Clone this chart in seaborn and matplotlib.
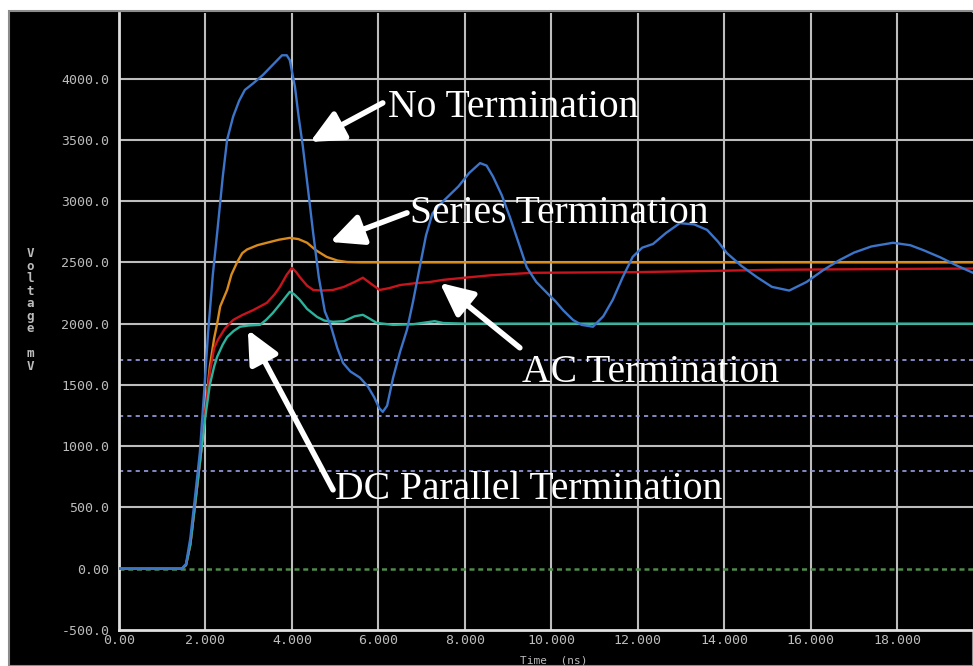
import numpy as np
import pandas as pd
import matplotlib
matplotlib.use("Agg")
import matplotlib.pyplot as plt
from matplotlib.patches import Rectangle
import seaborn as sns

# ---------------- data ----------------
t_no = [0, 1.45, 1.55, 1.65, 1.75, 1.87, 1.97, 2.06, 2.17, 2.27, 2.4, 2.5, 2.64, 2.78, 2.91,
        3.1, 3.33, 3.55, 3.77, 3.88, 3.95, 4.07, 4.15, 4.25, 4.37, 4.49, 4.62, 4.76, 4.9,
        5.05, 5.18, 5.35, 5.57, 5.75, 5.9, 6.02, 6.1, 6.2, 6.34, 6.5, 6.66, 6.8, 6.96, 7.1,
        7.25, 7.5, 7.85, 8.1, 8.35, 8.5, 8.65, 8.85, 9.04, 9.25, 9.43, 9.65, 9.9, 10.1, 10.27,
        10.5, 10.7, 10.96, 11.2, 11.42, 11.65, 11.88, 12.1, 12.35, 12.65, 12.97, 13.3, 13.6,
        13.85, 14.06, 14.4, 14.75, 15.1, 15.5, 15.9, 16.3, 16.67, 17.0, 17.4, 17.9, 18.3,
        18.6, 19.0, 19.4, 19.75]
v_no = [0, 0, 40, 250, 560, 950, 1450, 1925, 2400, 2740, 3200, 3500, 3690, 3820, 3907,
        3960, 4030, 4110, 4190, 4190, 4150, 3930, 3700, 3450, 3100, 2740, 2380, 2100, 1980,
        1800, 1680, 1610, 1560, 1490, 1400, 1310, 1280, 1330, 1560, 1770, 1950, 2180, 2470, 2720,
        2900, 3000, 3120, 3230, 3310, 3290, 3200, 3050, 2870, 2650, 2460, 2340, 2250, 2180, 2110,
        2030, 1990, 1975, 2060, 2195, 2380, 2545, 2620, 2650, 2740, 2820, 2810, 2765,
        2670, 2575, 2470, 2380, 2300, 2270, 2340, 2440, 2520, 2580, 2630, 2660, 2640,
        2600, 2540, 2470, 2415]

t_series = [0, 1.45, 1.55, 1.65, 1.75, 1.87, 2.0, 2.1, 2.2, 2.27, 2.34, 2.5, 2.6, 2.73, 2.85,
            2.96, 3.2, 3.42, 3.7, 3.95, 4.15, 4.35, 4.55, 4.8, 5.05, 5.27, 5.6, 19.75]
v_series = [0, 0, 30, 200, 500, 865, 1300, 1650, 1880, 2000, 2140, 2275, 2400, 2500, 2575,
            2605, 2640, 2660, 2685, 2700, 2690, 2660, 2600, 2545, 2515, 2503, 2500, 2500]

t_ac = [0, 1.45, 1.55, 1.65, 1.75, 1.87, 2.0, 2.1, 2.2, 2.29, 2.45, 2.64, 2.85, 3.1, 3.42,
        3.6, 3.72, 3.88, 4.0, 4.1, 4.18, 4.35, 4.49, 4.7, 4.95, 5.2, 5.45, 5.64, 5.85, 6.03,
        6.25, 6.5, 6.85, 7.19, 7.49, 8.0, 8.6, 9.57, 11.88, 15.3, 19.75]
v_ac = [0, 0, 30, 200, 500, 865, 1300, 1600, 1800, 1870, 1960, 2030, 2070, 2110, 2170,
        2240, 2300, 2400, 2455, 2420, 2380, 2310, 2275, 2270, 2275, 2300, 2340, 2375, 2320, 2275,
        2290, 2315, 2330, 2340, 2357, 2375, 2395, 2415, 2420, 2440, 2450]

t_dc = [0, 1.45, 1.55, 1.65, 1.75, 1.87, 2.0, 2.1, 2.2, 2.27, 2.4, 2.5, 2.65, 2.8, 3.0,
        3.26, 3.4, 3.56, 3.75, 3.95, 4.05, 4.18, 4.35, 4.58, 4.75, 4.95, 5.2, 5.45, 5.64,
        5.8, 5.96, 6.34, 6.8, 7.1, 7.3, 7.5, 8.0, 19.75]
v_dc = [0, 0, 30, 200, 500, 865, 1250, 1500, 1650, 1730, 1830, 1890, 1940, 1975, 1985,
        1990, 2030, 2088, 2170, 2260, 2240, 2195, 2120, 2055, 2025, 2015, 2020, 2060, 2072,
        2040, 2006, 1990, 1995, 2010, 2020, 2005, 2000, 2000]

series_names = ["Series Termination", "AC Termination", "DC Parallel Termination", "No Termination"]
series_colors = ["#d88a1c", "#c8141c", "#2bb39c", "#3b74c8"]

threshold_levels = [1700, 1250, 800]

x_ticks = [0, 2, 4, 6, 8, 10, 12, 14, 16, 18]
x_tick_labels = ["0.00", "2.000", "4.000", "6.000", "8.000", "10.000", "12.000",
                 "14.000", "16.000", "18.000"]
y_ticks = [-500, 0, 500, 1000, 1500, 2000, 2500, 3000, 3500, 4000]
y_tick_labels = ["-500.0", "0.00", "500.0", "1000.0", "1500.0", "2000.0", "2500.0",
                 "3000.0", "3500.0", "4000.0"]

# annotation: (label, text pos, arrow tail, arrow tip) in data units
annotations = [
    ("No Termination", (6.22, 3687), (6.10, 3801), (4.42, 3483)),
    ("Series Termination", (6.73, 2822), (6.66, 2904), (4.88, 2667)),
    ("AC Termination", (9.32, 1525), (9.27, 1803), (7.42, 2333)),
    ("DC Parallel Termination", (4.99, 571), (4.95, 644), (2.98, 1949)),
]

# ---------------- build long-form data ----------------
frames = []
for name, tt, vv in zip(series_names,
                        [t_series, t_ac, t_dc, t_no],
                        [v_series, v_ac, v_dc, v_no]):
    frames.append(pd.DataFrame({"t": tt, "v": vv, "series": name}))
df = pd.concat(frames, ignore_index=True)

# ---------------- figure ----------------
sns.set_theme(style="dark")
W, H, DPI = 973, 666, 100
fig = plt.figure(figsize=(W / DPI, H / DPI), dpi=DPI, facecolor="white")
fig.patches.append(Rectangle((9 / W, 0), 1 - 9 / W, (H - 11) / H, transform=fig.transFigure,
                             facecolor="black", edgecolor="#8c8c8c", lw=1.5, zorder=-5))

ax = fig.add_axes([119 / W, 36 / H, 1 - 119 / W, (630 - 13) / H])
ax.set_facecolor("black")

ax.set_xlim(0, 19.75)
ax.set_ylim(-500, 4535)

# grid
for xt in x_ticks[1:]:
    ax.axvline(xt, color="#bdbdbd", lw=1.5, zorder=1)
for yt in y_ticks[1:]:
    if yt == 0:
        continue
    ax.axhline(yt, color="#bdbdbd", lw=1.5, zorder=1)
for lvl in threshold_levels:
    ax.axhline(lvl, color="#9aa0e6", lw=1.2, ls=(0, (2.5, 2.5)), zorder=1)
ax.axhline(0, color="#4e8c4a", lw=1.8, ls=(0, (2, 1.5)), zorder=1)

palette = dict(zip(series_names, series_colors))
sns.lineplot(data=df, x="t", y="v", hue="series", palette=palette, hue_order=series_names,
             estimator=None, sort=False, legend=False, lw=1.7, ax=ax, zorder=3)

# axes styling
for s in ["top", "right"]:
    ax.spines[s].set_visible(False)
for s in ["left", "bottom"]:
    ax.spines[s].set_color("#e0e0e0")
    ax.spines[s].set_linewidth(2)

ax.set_xticks(x_ticks)
ax.set_xticklabels(x_tick_labels)
ax.set_yticks(y_ticks)
ax.set_yticklabels(y_tick_labels)
ax.tick_params(axis="both", length=0, colors="#bcbcbc", labelsize=9.5)
ax.tick_params(axis="y", pad=7)
ax.tick_params(axis="x", pad=3)
for lbl in ax.get_xticklabels() + ax.get_yticklabels():
    lbl.set_family("DejaVu Sans Mono")
ax.grid(False)

ax.set_xlabel("Time  (ns)", color="#bcbcbc", fontsize=8, family="DejaVu Sans Mono")
ax.xaxis.set_label_coords(0.509, -0.042)
ax.set_ylabel("")
fig.text(30 / W, 1 - 310 / H, "\n".join("Voltage mV"), color="#bcbcbc", fontsize=9,
         fontweight="bold", family="DejaVu Sans Mono", ha="center", va="center",
         linespacing=0.95)

# annotations
for label, tpos, tail, tip in annotations:
    ax.annotate("", xy=tip, xytext=tail,
                arrowprops=dict(arrowstyle="-|>,head_length=0.8,head_width=0.38",
                                mutation_scale=25, color="white", lw=4,
                                shrinkA=0, shrinkB=0), zorder=6)
    ax.text(tpos[0], tpos[1], label, color="white", fontsize=28.5,
            family="Liberation Serif", ha="left", va="baseline", zorder=7)

fig.savefig("out.png", dpi=DPI, facecolor=fig.get_facecolor())
